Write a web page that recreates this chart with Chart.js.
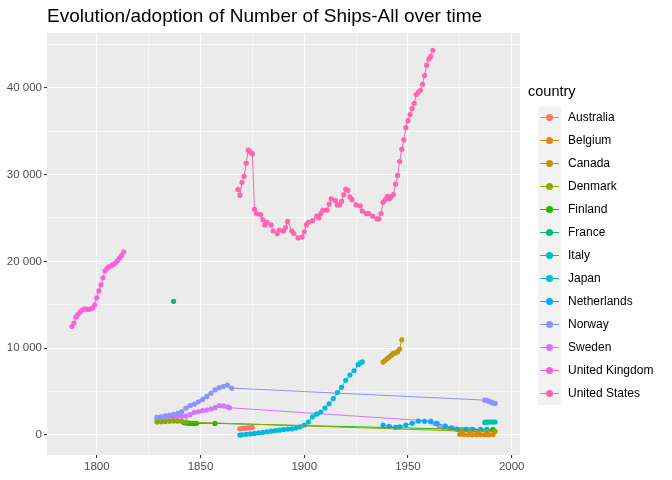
<!DOCTYPE html>
<html lang="en">
<head>
  <meta charset="UTF-8" />
  <title>Number of Ships</title>
  <style>
    body { margin: 0; background: #fff; font-family: "Liberation Sans", Arial, sans-serif; }
    #wrap { position: relative; width: 672px; height: 480px; }
    #titulo { position: absolute; left: 47px; top: 5px; font-size: 19px; color: #000; white-space: nowrap; }
    #leyenda { position: absolute; left: 527px; top: 83px; font-size: 12px; color: #000; white-space: nowrap; }
    #leyenda .tit { font-size: 14.5px; margin-bottom: 7px; margin-left: 1px; }
    #leyenda .item { position: relative; height: 23px; width: 145px; }
    #leyenda .key { position: absolute; left: 11px; top: 0; width: 23px; height: 23px; background: #F2F2F2; }
    #leyenda .key i { position: absolute; left: 2px; right: 2px; top: 11px; height: 1px; }
    #leyenda .key b { position: absolute; left: 8px; top: 8px; width: 7px; height: 7px; border-radius: 50%; }
    #leyenda .lab { position: absolute; left: 41px; top: 4px; }
  </style>
</head>
<body>
<div id="wrap">
  <canvas id="grafico" width="672" height="480"></canvas>
  <div id="titulo">Evolution/adoption of Number of Ships-All over time</div>
  <div id="leyenda"><div class="tit">country</div></div>
</div>

<script src="https://cdn.jsdelivr.net/npm/chart.js"></script>
<script>
const countries = ["Australia", "Belgium", "Canada", "Denmark", "Finland", "France", "Italy",
  "Japan", "Netherlands", "Norway", "Sweden", "United Kingdom", "United States"];
const colores = ["#F8766D", "#E18A00", "#BE9C00", "#8CAB00", "#24B700", "#00BE70", "#00C1AB",
  "#00BBDA", "#00ACFC", "#8B93FF", "#D575FE", "#F962DD", "#FF65AC"];

const australiaYears = [1869, 1870, 1871, 1872, 1873, 1874, 1875];
const australiaShips = [720, 760, 780, 800, 820, 840, 860];
const belgiumYears = [1975, 1977, 1979, 1981, 1983, 1985, 1987, 1989, 1991];
const belgiumShips = [80, 60, 50, 40, 40, 40, 40, 40, 50];
const canadaYears = [1938, 1939, 1940, 1941, 1942, 1943, 1944, 1945, 1946, 1947];
const canadaShips = [8400, 8600, 8800, 9000, 9200, 9400, 9460, 9600, 9900, 10960];
const denmarkYears = [1829, 1831, 1833, 1835, 1837, 1839, 1841, 1843, 1976, 1980, 1984, 1988, 1992];
const denmarkShips = [1500, 1530, 1560, 1600, 1620, 1600, 1580, 1500, 450, 420, 400, 400, 420];
const finlandYears = [1842, 1843, 1844, 1845, 1846, 1847, 1848, 1857, 1991];
const finlandShips = [1420, 1380, 1360, 1340, 1350, 1340, 1340, 1340, 575];
const franceYears = [1837];
const franceShips = [15400];
const italyYears = [1987, 1988, 1989, 1990, 1991, 1992];
const italyShips = [1450, 1480, 1500, 1500, 1500, 1500];
const japanYears = [1869, 1870, 1872, 1874, 1876, 1878, 1880, 1882, 1884, 1886, 1888, 1890, 1892, 1894,
  1896, 1898, 1900, 1902, 1904, 1906, 1908, 1910, 1912, 1914, 1916, 1918, 1920, 1922, 1924, 1926, 1927, 1928];
const japanShips = [0, 30, 80, 130, 190, 250, 300, 380, 440, 500, 560, 630, 680, 720,
  800, 950, 1150, 1500, 2100, 2400, 2650, 3100, 3600, 4200, 4900, 5500, 6300, 6900, 7400, 8100, 8300, 8430];
const netherlandsYears = [1938, 1941, 1944, 1946, 1949, 1952, 1955, 1958, 1961, 1964, 1968, 1971, 1974, 1978, 1981, 1985, 1988, 1991];
const netherlandsShips = [1150, 1000, 880, 950, 1150, 1350, 1610, 1580, 1530, 1350, 1030, 830, 650, 640, 650, 650, 650, 650];
const norwayYears = [1829, 1831, 1833, 1835, 1837, 1839, 1841, 1843, 1845, 1847, 1849, 1851, 1853, 1855, 1857, 1859,
  1861, 1863, 1865, 1987, 1988, 1989, 1990, 1991, 1992];
const norwayShips = [2030, 2100, 2200, 2300, 2380, 2500, 2700, 3100, 3400, 3550, 3830, 4100, 4450, 4800, 5200, 5450,
  5600, 5750, 5400, 4020, 3980, 3900, 3800, 3700, 3640];
const swedenYears = [1829, 1831, 1833, 1835, 1837, 1839, 1841, 1843, 1845, 1847, 1849, 1851, 1853, 1855, 1857, 1859,
  1861, 1863, 1864, 1961, 1963, 1965, 1967, 1970, 1973, 1976, 1979, 1982, 1985, 1988, 1991];
const swedenShips = [1840, 1900, 1950, 2030, 2080, 2120, 2150, 2180, 2350, 2600, 2700, 2800, 2880, 3000, 3150, 3400,
  3350, 3250, 3140, 1610, 1300, 1030, 900, 770, 700, 650, 620, 580, 575, 575, 575];
const ukYears = [1788, 1789, 1790, 1791, 1792, 1793, 1794, 1795, 1796, 1797, 1798, 1799, 1800, 1801, 1802, 1803,
  1804, 1805, 1806, 1807, 1808, 1809, 1810, 1811, 1812, 1813];
const ukShips = [12500, 12900, 13600, 13900, 14200, 14400, 14500, 14500, 14450, 14500, 14650, 15000, 15800, 16600, 17300, 18100,
  18900, 19200, 19400, 19500, 19650, 19800, 20100, 20400, 20700, 21100];
const usYears = [1868, 1869, 1870, 1871, 1872, 1873, 1874, 1875, 1876, 1877, 1879, 1880, 1881, 1882, 1884, 1885, 1887,
  1888, 1890, 1891, 1892, 1894, 1895, 1897, 1899, 1900, 1901, 1902, 1904, 1906, 1907, 1908, 1909, 1911, 1912, 1913,
  1915, 1916, 1917, 1918, 1919, 1920, 1921, 1922, 1923, 1925, 1927, 1928, 1930, 1931, 1933, 1935, 1936, 1937, 1938,
  1939, 1940, 1941, 1942, 1943, 1944, 1945, 1946, 1947, 1948, 1949, 1950, 1951, 1952, 1953, 1954, 1955, 1956, 1957,
  1958, 1959, 1960, 1961, 1962];
const usShips = [28270, 27600, 29100, 29800, 31300, 32800, 32600, 32400, 26000, 25500, 25400, 24800, 24200, 24500, 24200, 23500, 23200,
  23600, 23500, 23900, 24600, 23500, 23200, 22700, 22800, 23400, 24200, 24500, 24700, 25200, 25000, 25500, 25900, 25900, 26600, 27200,
  27000, 26500, 26500, 26900, 27700, 28300, 28200, 27400, 27100, 26500, 26400, 25800, 25500, 25500, 25200, 24900, 24900, 25500, 26800,
  27100, 27500, 27200, 27500, 27700, 28900, 29900, 31500, 32900, 34000, 35400, 36200, 36900, 37600, 38200, 39200, 39500, 39700, 40400,
  41400, 42600, 43300, 43600, 44300];

const series = [
  [australiaYears, australiaShips], [belgiumYears, belgiumShips], [canadaYears, canadaShips],
  [denmarkYears, denmarkShips], [finlandYears, finlandShips], [franceYears, franceShips],
  [italyYears, italyShips], [japanYears, japanShips], [netherlandsYears, netherlandsShips],
  [norwayYears, norwayShips], [swedenYears, swedenShips], [ukYears, ukShips], [usYears, usShips]
];

const fondo = {
  id: "fondo",
  beforeDraw(chart) {
    const { ctx, chartArea: a } = chart;
    ctx.save();
    ctx.fillStyle = "#EBEBEB";
    ctx.fillRect(a.left, a.top, a.right - a.left, a.bottom - a.top);
    ctx.restore();
  }
};

const datasets = series.map((s, i) => ({
  label: countries[i],
  data: s[0].map((y, j) => ({ x: y, y: s[1][j] })),
  showLine: true,
  borderColor: colores[i],
  backgroundColor: colores[i],
  borderWidth: 1,
  pointRadius: 2.6,
  pointBorderWidth: 0,
  pointHoverRadius: 3
}));

const esMayorX = c => c.tick && c.tick.value % 50 === 0;
const esMayorY = c => c.tick && c.tick.value % 10000 === 0;

new Chart(document.getElementById("grafico"), {
  type: "scatter",
  data: { datasets },
  plugins: [fondo],
  options: {
    responsive: false,
    animation: false,
    layout: { padding: { top: 33, right: 152, left: 0, bottom: 0 } },
    plugins: { legend: { display: false }, tooltip: { enabled: false } },
    scales: {
      x: {
        type: "linear", min: 1776, max: 2004,
        afterFit: s => { s.height = 25; },
        afterBuildTicks: s => { s.ticks = [1775, 1800, 1825, 1850, 1875, 1900, 1925, 1950, 1975, 2000].map(v => ({ value: v })); },
        grid: { color: "#fff", lineWidth: c => (esMayorX(c) ? 1.1 : 0.5), tickLength: 3,
          tickColor: c => (esMayorX(c) ? "#333" : "rgba(0,0,0,0)") },
        border: { display: false },
        ticks: { color: "#4d4d4d", font: { size: 11.5, family: "Liberation Sans" }, padding: 2, maxRotation: 0,
          callback: v => (v % 50 === 0 ? String(v) : "") }
      },
      y: {
        min: -2300, max: 46300,
        afterFit: s => { s.width = 47; },
        afterBuildTicks: s => { s.ticks = [0, 5000, 10000, 15000, 20000, 25000, 30000, 35000, 40000, 45000].map(v => ({ value: v })); },
        grid: { color: "#fff", lineWidth: c => (esMayorY(c) ? 1.1 : 0.5), tickLength: 3,
          tickColor: c => (esMayorY(c) ? "#333" : "rgba(0,0,0,0)") },
        border: { display: false },
        ticks: { color: "#4d4d4d", font: { size: 11.5, family: "Liberation Sans" }, padding: 2,
          callback: v => (v % 10000 === 0 ? String(v).replace(/\B(?=(\d{3})+(?!\d))/g, " ") : "") }
      }
    }
  }
});

const leyenda = document.getElementById("leyenda");
countries.forEach((c, i) => {
  const d = document.createElement("div");
  d.className = "item";
  d.innerHTML = `<div class="key"><i style="background:${colores[i]}"></i><b style="background:${colores[i]}"></b></div><span class="lab">${c}</span>`;
  leyenda.appendChild(d);
});
</script>
</body>
</html>
